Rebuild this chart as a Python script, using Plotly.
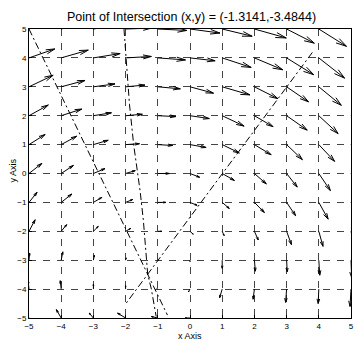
import numpy as np
import plotly.graph_objects as go
import plotly.figure_factory as ff

# grid positions
xs = [-5, -4, -3, -2, -1, 0, 1, 2, 3, 4, 5]
ys_top_down = [5, 4, 3, 2, 1, 0, -1, -2, -3, -4, -5]

# vector components, one row per y (top to bottom), columns x=-5..5
U = [
    [0.85, 0.88, 0.88, 0.80, 0.90, 0.93, 0.93, 0.99, 0.86, 0.86, 0.85],
    [0.80, 0.84, 0.83, 0.80, 0.86, 0.78, 0.90, 0.88, 0.84, 0.80, 0.80],
    [0.75, 0.74, 0.67, 0.60, 0.70, 0.73, 0.86, 0.73, 0.68, 0.70, 0.70],
    [0.60, 0.64, 0.56, 0.52, 0.56, 0.60, 0.68, 0.58, 0.64, 0.60, 0.60],
    [0.50, 0.48, 0.46, 0.43, 0.46, 0.50, 0.53, 0.52, 0.49, 0.49, 0.50],
    [0.40, 0.38, 0.36, 0.30, 0.36, 0.30, 0.38, 0.37, 0.33, 0.36, 0.36],
    [0.25, 0.33, 0.26, 0.22, 0.25, 0.22, 0.22, 0.31, 0.28, 0.29, 0.28],
    [0.19, 0.17, 0.15, 0.16, 0.12, 0.10, 0.06, 0.12, 0.15, 0.13, 0.13],
    [0.02, 0.05, 0.03, 0.02, 0.02, 0.00, 0.00, 0.03, 0.02, 0.03, 0.02],
    [-0.03, -0.03, 0.00, 0.00, -0.03, -0.05, -0.08, -0.04, -0.03, -0.02, -0.03],
    [-0.15, -0.15, -0.13, -0.25, -0.20, -0.15, -0.12, -0.10, -0.10, -0.10, -0.10],
]
V = [
    [0.30, 0.27, 0.15, 0.03, -0.05, -0.14, -0.25, -0.31, -0.49, -0.60, -0.72],
    [0.31, 0.27, 0.15, 0.05, -0.07, -0.10, -0.33, -0.41, -0.58, -0.70, -0.80],
    [0.40, 0.22, 0.10, 0.06, -0.07, -0.22, -0.28, -0.41, -0.52, -0.64, -0.75],
    [0.37, 0.23, 0.10, 0.05, -0.03, -0.10, -0.36, -0.38, -0.50, -0.62, -0.72],
    [0.35, 0.29, 0.15, 0.03, -0.03, -0.10, -0.29, -0.35, -0.52, -0.58, -0.70],
    [0.35, 0.28, 0.17, 0.10, 0.00, -0.13, -0.24, -0.36, -0.47, -0.59, -0.70],
    [0.35, 0.29, 0.17, 0.10, 0.00, -0.10, -0.21, -0.35, -0.46, -0.58, -0.68],
    [0.40, 0.23, 0.17, 0.10, 0.00, -0.10, -0.15, -0.30, -0.46, -0.52, -0.65],
    [0.25, 0.29, 0.17, 0.08, 0.00, -0.05, -0.28, -0.38, -0.40, -0.52, -0.60],
    [0.30, 0.29, 0.17, 0.12, 0.02, -0.10, -0.30, -0.35, -0.46, -0.50, -0.60],
    [0.30, 0.29, 0.17, 0.17, 0.05, 0.00, -0.10, -0.20, -0.30, -0.40, -0.50],
]

# the three dash-dot curves
lineA_x = [-5.0, -1.3141, -0.7]
lineA_y = [5.0, -3.4844, -4.9]
lineB_x = [-2.05, -1.88, -1.75, -1.55, -1.45, -1.36, -1.3141, -1.2, -1.05]
lineB_y = [5.0, 2.4, 1.0, -0.6, -1.6, -2.8, -3.4844, -4.0, -4.95]
lineC_x = [3.8, -1.3141, -1.99]
lineC_y = [4.19, -3.4844, -4.5]

title_text = "Point of Intersection (x,y) = (-1.3141,-3.4844)"

gx, gy = np.meshgrid(np.array(xs, float), np.array(ys_top_down, float))
fig = ff.create_quiver(gx.ravel(), gy.ravel(),
                       np.array(U).ravel(), np.array(V).ravel(),
                       scale=1, arrow_scale=0.33, angle=0.26,
                       line=dict(color="black", width=1), showlegend=False)

for lx, ly in [(lineA_x, lineA_y), (lineB_x, lineB_y), (lineC_x, lineC_y)]:
    fig.add_trace(go.Scatter(x=lx, y=ly, mode="lines", showlegend=False,
                             line=dict(color="black", width=1, dash="7px,3px,2px,3px")))

font = "Liberation Sans, Arial, sans-serif"
axis_common = dict(range=[-5, 5], dtick=1, showline=True, linecolor="black", linewidth=1,
                   mirror=True, ticks="inside", ticklen=3, tickcolor="black",
                   tickfont=dict(size=8, color="black", family=font),
                   showgrid=True, gridcolor="#444444", gridwidth=1, griddash="7px,7px",
                   zeroline=False, fixedrange=True)

fig.update_layout(
    width=358, height=340,
    margin=dict(l=29, r=4, t=29, b=22),
    paper_bgcolor="white", plot_bgcolor="white",
    showlegend=False,
    title=dict(text=title_text, x=0.535, xanchor="center", y=0.95, yanchor="middle",
               yref="container", font=dict(size=12.5, color="black", family=font)),
    xaxis=dict(**axis_common),
    yaxis=dict(**axis_common),
    annotations=[
        dict(text="x Axis", xref="paper", yref="paper", x=0.5, y=-0.062,
             xanchor="center", yanchor="middle", showarrow=False,
             font=dict(size=9, color="black", family=font)),
        dict(text="y Axis", xref="paper", yref="paper", x=-0.05, y=0.51,
             xanchor="center", yanchor="middle", showarrow=False, textangle=-90,
             font=dict(size=9, color="black", family=font)),
    ],
)

fig.write_html("out.html")
